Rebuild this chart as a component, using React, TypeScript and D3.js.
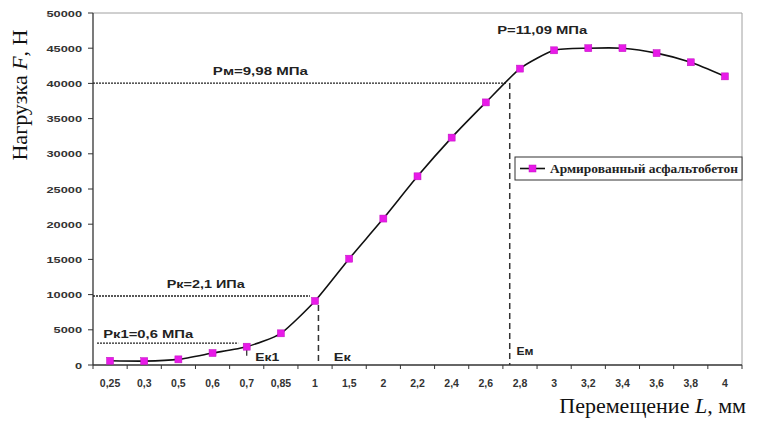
import React from 'react';
import { scaleBand, scaleLinear, line, curveCardinal, range } from 'd3';

// перемещение L, мм (categorical axis as in the Excel original)
const categories = ['0,25', '0,3', '0,5', '0,6', '0,7', '0,85', '1', '1,5', '2', '2,2', '2,4', '2,6', '2,8', '3', '3,2', '3,4', '3,6', '3,8', '4'];
// нагрузка F, Н
const loads = [600, 550, 800, 1700, 2600, 4500, 9100, 15100, 20800, 26800, 32300, 37300, 42100, 44700, 45000, 45000, 44300, 43000, 41000];
const yTicks = [0, 5000, 10000, 15000, 20000, 25000, 30000, 35000, 40000, 45000, 50000];
const seriesName = 'Армированный асфальтобетон';

// reference levels
const levelPm = 40050;
const levelPk = 9800;
const levelPk1 = 3100;

const W = 757;
const H = 423;
const margin = { top: 13, right: 15, bottom: 58, left: 93 };

const tickFont = '"Liberation Sans", Arial, sans-serif';
const serif = '"Liberation Serif", "Times New Roman", serif';

function Label({ x, y, text, width, anchor = 'start', size = 11.5 }) {
  return (
    <text x={x} y={y} fontFamily={tickFont} fontWeight="bold" fontSize={size} fill="#222"
      textAnchor={anchor} textLength={width} lengthAdjust="spacingAndGlyphs">
      {text}
    </text>
  );
}

export default function App() {
  const x0 = margin.left;
  const x1 = W - margin.right;
  const yBottom = H - margin.bottom;
  const yTop = margin.top;

  const x = scaleBand().domain(categories).range([x0, x1]).padding(0);
  const bw = x.bandwidth();
  const xf = (i) => x0 + bw * (i + 0.5);
  const y = scaleLinear().domain([0, 50000]).range([yBottom, yTop]);

  const pts = loads.map((v, i) => [xf(i), y(v)]);
  const path = line().curve(curveCardinal.tension(0.4))(pts);

  const dotted = { stroke: '#222', strokeWidth: 1.3, strokeDasharray: '2,1', fill: 'none' };
  const dashed = { stroke: '#333', strokeWidth: 1.5, strokeDasharray: '6,4', fill: 'none' };

  const iEm = 11.7;
  const iEk = 6.1;

  return (
    <svg width={W} height={H} style={{ position: 'absolute', left: 0, top: 0, background: '#fff' }}>
      {/* frame */}
      <line x1={x0} y1={yTop} x2={x1} y2={yTop} stroke="#a0a0a0" strokeWidth={1} />
      <line x1={x1} y1={yTop} x2={x1} y2={yBottom} stroke="#a0a0a0" strokeWidth={1} />

      {/* y axis */}
      <line x1={x0} y1={yTop} x2={x0} y2={yBottom} stroke="#333" strokeWidth={1.3} />
      {yTicks.map((t) => (
        <g key={t}>
          <line x1={x0 - 5} x2={x0} y1={y(t)} y2={y(t)} stroke="#333" />
          <text transform={`translate(${x0 - 11},${y(t) + 3.5}) scale(1.35,1)`} textAnchor="end"
            fontFamily={tickFont} fontWeight="bold" fontSize={9.5} fill="#333">{t}</text>
        </g>
      ))}

      {/* x axis */}
      <line x1={x0} y1={yBottom} x2={x1} y2={yBottom} stroke="#333" strokeWidth={1.3} />
      {range(categories.length + 1).map((i) => (
        <line key={i} x1={x0 + bw * i} x2={x0 + bw * i} y1={yBottom} y2={yBottom + 4} stroke="#333" />
      ))}
      {categories.map((c, i) => (
        <text key={c} x={xf(i)} y={yBottom + 22} textAnchor="middle"
          fontFamily={tickFont} fontWeight="bold" fontSize={10.5} fill="#333">{c}</text>
      ))}

      {/* reference lines */}
      <line x1={x0} x2={xf(iEm) - 3} y1={y(levelPm)} y2={y(levelPm)} style={dotted} />
      <line x1={xf(iEm)} x2={xf(iEm)} y1={y(levelPm)} y2={yBottom} style={dashed} />
      <line x1={x0} x2={xf(5.85)} y1={y(levelPk)} y2={y(levelPk)} style={dotted} />
      <line x1={xf(iEk)} x2={xf(iEk)} y1={y(loads[6]) + 4} y2={yBottom} style={dashed} />
      <line x1={x0 + 4} x2={xf(3.75)} y1={y(levelPk1)} y2={y(levelPk1)} style={dotted} />
      <line x1={xf(4)} x2={xf(4)} y1={y(loads[4]) + 3} y2={y(loads[4]) + 9} stroke="#333" strokeWidth={1.3} />

      {/* annotations */}
      <Label x={xf(4.4)} y={y(levelPm) - 8} text="Pм=9,98 МПа" width={95} anchor="middle" />
      <Label x={xf(12.65)} y={y(levelPm) - 49} text="P=11,09 МПа" width={90} anchor="middle" />
      <Label x={xf(2.8)} y={y(levelPk) - 8} text="Pк=2,1 ИПа" width={78} anchor="middle" />
      <Label x={xf(-0.2)} y={y(levelPk1) - 5} text="Pк1=0,6 МПа" width={90} />
      <Label x={xf(4.25)} y={yBottom - 4} text="Eк1" width={24} />
      <Label x={xf(6.55)} y={yBottom - 4} text="Eк" width={17} />
      <Label x={xf(11.9)} y={yBottom - 10} text="Eм" width={17} size={10} />

      {/* series */}
      <path d={path} fill="none" stroke="#111" strokeWidth={1.6} />
      {pts.map(([px, py], i) => (
        <rect key={i} x={px - 3.5} y={py - 3.5} width={7} height={7} fill="#e81ae8" stroke="#c010c0" strokeWidth={0.5} />
      ))}

      {/* legend */}
      <g>
        <rect x={515} y={157} width={x1 - 515} height={23} fill="#fff" stroke="#333" strokeWidth={1} />
        <line x1={520} x2={545} y1={168.5} y2={168.5} stroke="#111" strokeWidth={1.6} />
        <rect x={529} y={165} width={7} height={7} fill="#e81ae8" stroke="#c010c0" strokeWidth={0.5} />
        <text x={550} y={172.5} fontFamily={serif} fontWeight="bold" fontSize={12.5} fill="#222"
          textLength={188} lengthAdjust="spacingAndGlyphs">{seriesName}</text>
      </g>

      {/* axis titles */}
      <text transform="translate(27,95) rotate(-90)" textAnchor="middle" fontFamily={serif} fontSize={22} fill="#111">
        Нагрузка <tspan fontStyle="italic">F</tspan>, Н
      </text>
      <text x={746} y={413} textAnchor="end" fontFamily={serif} fontSize={22} fill="#111">
        Перемещение <tspan fontStyle="italic">L</tspan>, мм
      </text>
    </svg>
  );
}
